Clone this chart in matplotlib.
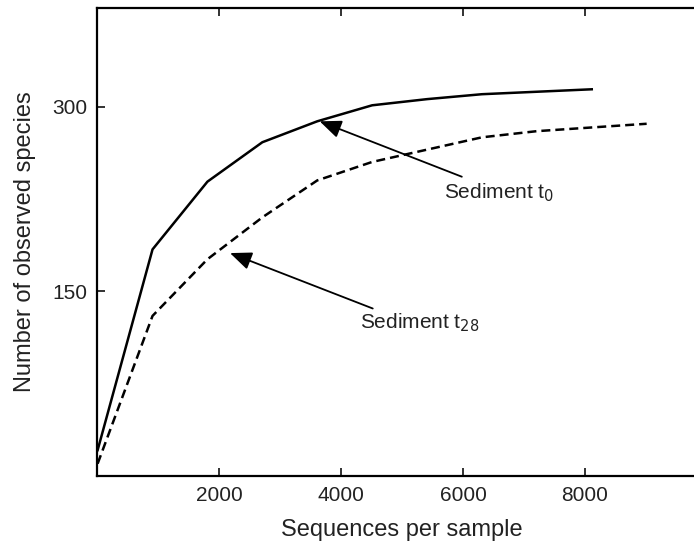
import matplotlib.pyplot as plt
import numpy as np

plt.rcParams['font.family'] = ['Liberation Sans', 'DejaVu Sans']

# rarefaction depths and observed species
depth_t0 = [10, 910, 1810, 2710, 3610, 4510, 5410, 6310, 7210, 8110]
species_t0 = [21, 184, 239, 271, 288, 301, 306, 310, 312, 314]

depth_t28 = [10, 910, 1810, 2710, 3610, 4510, 5410, 6310, 7210, 8110, 9010]
species_t28 = [10, 130, 176, 210, 240, 255, 265, 275, 280, 283, 286]

x_ticks = [2000, 4000, 6000, 8000]
y_ticks = [150, 300]

fig = plt.figure(figsize=(6.94, 5.48), dpi=100)
ax = fig.add_axes([0.1398, 0.1314, 0.879, 0.854])

ax.plot(depth_t0, species_t0, color='black', lw=1.8)
ax.plot(depth_t28, species_t28, color='black', lw=1.8, linestyle=(0, (3.6, 2.0)))

ax.set_xlim(0, 10000)
ax.set_ylim(0, 380)
ax.set_xticks(x_ticks)
ax.set_yticks(y_ticks)
ax.tick_params(direction='in', length=6, width=1.3, top=True, right=True,
               labelsize=15, colors='#222222', pad=7)
for s in ax.spines.values():
    s.set_linewidth(1.6)

ax.set_xlabel('Sequences per sample', fontsize=17, color='#222222', labelpad=10)
ax.set_ylabel('Number of observed species', fontsize=17, color='#222222', labelpad=12)

# Annotations
arrow = dict(arrowstyle='-|>,head_length=0.6,head_width=0.25', color='black', lw=1.3,
             mutation_scale=22, shrinkA=0, shrinkB=0)
ax.annotate('', xy=(3650, 288), xytext=(5980, 243), arrowprops=arrow)
ax.text(5690, 225, 'Sediment t$_0$', fontsize=15, color='#222222', ha='left', va='baseline')
ax.annotate('', xy=(2180, 181), xytext=(4520, 136), arrowprops=arrow)
ax.text(4310, 120, 'Sediment t$_{28}$', fontsize=15, color='#222222', ha='left', va='baseline')

fig.savefig('out.png', dpi=100)
